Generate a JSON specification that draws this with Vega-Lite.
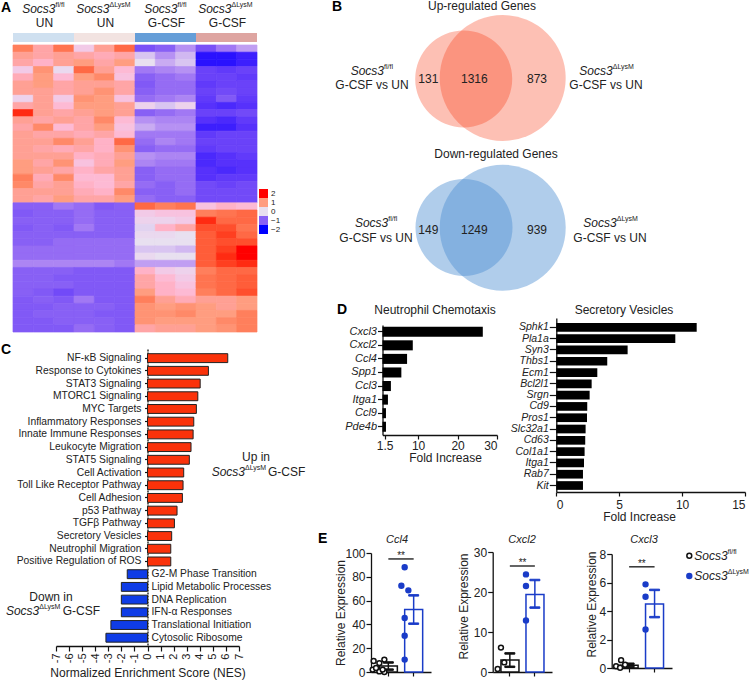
{"$schema":"https://vega.github.io/schema/vega-lite/v6.json","background":"white","padding":0,"autosize":"none","width":750,"height":680,
"config":{"font":"Liberation Sans","view":{"stroke":null},"axis":{"grid":false,"domainColor":"#111","tickColor":"#111","labelColor":"#222","titleColor":"#222","titleFontWeight":"normal","domainWidth":1.3,"tickWidth":1.2,"labelFontSize":12,"titleFontSize":12},"text":{"fontSize":12,"color":"#222","baseline":"middle"}},
"resolve":{"scale":{"x":"independent","y":"independent","fill":"independent","stroke":"independent","color":"independent","fillOpacity":"independent","xOffset":"independent"},"axis":{"x":"independent","y":"independent"},"legend":{"fill":"independent"}},
"datasets":{
"hdr":[{"g":"a","t":"UN","s":"fl/fl"},{"g":"b","t":"UN","s":"ΔLysM"},{"g":"c","t":"G-CSF","s":"fl/fl"},{"g":"d","t":"G-CSF","s":"ΔLysM"}],
"nes":[{"p":"NF-κB Signaling","v":6.14},{"p":"Response to Cytokines","v":4.66},{"p":"STAT3 Signaling","v":4.03},{"p":"MTORC1 Signaling","v":3.85},{"p":"MYC Targets","v":3.74},{"p":"Inflammatory Responses","v":3.54},{"p":"Innate Immune Responses","v":3.49},{"p":"Leukocyte Migration","v":3.33},{"p":"STAT5 Signaling","v":3.2},{"p":"Cell Activation","v":2.77},{"p":"Toll Like Receptor Pathway","v":2.72},{"p":"Cell Adhesion","v":2.67},{"p":"p53 Pathway","v":2.26},{"p":"TGFβ Pathway","v":2.06},{"p":"Secretory Vesicles","v":1.85},{"p":"Neutrophil Migration","v":1.78},{"p":"Positive Regulation of ROS","v":1.78},{"p":"G2-M Phase Transition","v":-1.55},{"p":"Lipid Metabolic Processes","v":-2.0},{"p":"DNA Replication","v":-2.0},{"p":"IFN-α Responses","v":-2.0},{"p":"Translational Initiation","v":-2.8},{"p":"Cytosolic Ribosome","v":-3.18}],
"cnote":[{"x":8.3,"p":"STAT5 Signaling","t":"Up in","k":"c"},{"x":-7.38,"p":"DNA Replication","t":"Down in","k":"c"},{"x":7.46,"p":"Cell Activation","t":"Socs3","k":"s"},{"x":-8.28,"p":"IFN-α Responses","t":"Socs3","k":"s"},{"x":9.22,"p":"Cell Activation","t":"G-CSF","k":"g"},{"x":-6.49,"p":"IFN-α Responses","t":"G-CSF","k":"g"}],
"circ":[{"x":131.7,"y":78,"f":"up","k":"big"},{"x":92.7,"y":79,"f":"up","k":"small"},{"x":131.7,"y":227.7,"f":"down","k":"big"},{"x":93,"y":227.5,"f":"down","k":"small"}],
"vtxt":[{"x":1,"y":85,"t":"G-CSF vs UN"},{"x":235,"y":85,"t":"G-CSF vs UN"},{"x":5,"y":238,"t":"G-CSF vs UN"},{"x":239,"y":238,"t":"G-CSF vs UN"},{"x":57.3,"y":79,"t":"131"},{"x":103.3,"y":79,"t":"1316"},{"x":166,"y":79,"t":"873"},{"x":57.3,"y":230,"t":"149"},{"x":103.3,"y":230,"t":"1249"},{"x":166,"y":230,"t":"939"},{"x":111,"y":6,"t":"Up-regulated Genes"},{"x":125,"y":154,"t":"Down-regulated Genes"},{"x":64,"y":310,"t":"Neutrophil Chemotaxis"},{"x":253,"y":310,"t":"Secretory Vesicles"}],
"vital":[{"x":26,"y":540,"t":"Ccl4"},{"x":151,"y":540,"t":"Cxcl2"},{"x":273,"y":540,"t":"Cxcl3"}],
"vsoc":[{"x":13,"y":71,"s":"fl/fl"},{"x":241.7,"y":71,"s":"ΔLysM"},{"x":17.3,"y":223,"s":"fl/fl"},{"x":245.7,"y":223,"s":"ΔLysM"}],
"letters":[{"x":-370,"y":8,"t":"A"},{"x":-39,"y":7,"t":"B"},{"x":-370,"y":350,"t":"C"},{"x":-34,"y":310,"t":"D"},{"x":-53,"y":539,"t":"E"}],
"d1":[{"g":"Cxcl3","v":26.4},{"g":"Cxcl2","v":8.65},{"g":"Ccl4","v":7.2},{"g":"Spp1","v":5.75},{"g":"Ccl3","v":3.1},{"g":"Itga1","v":2.35},{"g":"Ccl9","v":1.85},{"g":"Pde4b","v":1.85}],
"d2":[{"g":"Sphk1","v":11.16},{"g":"Pla1a","v":9.46},{"g":"Syn3","v":5.67},{"g":"Thbs1","v":4.05},{"g":"Ecm1","v":3.26},{"g":"Bcl2l1","v":2.81},{"g":"Srgn","v":2.65},{"g":"Cd9","v":2.46},{"g":"Pros1","v":2.44},{"g":"Slc32a1","v":2.33},{"g":"Cd63","v":2.3},{"g":"Col1a1","v":2.25},{"g":"Itga1","v":2.2},{"g":"Rab7","v":2.12},{"g":"Kit","v":2.12}],
"es":[{"n":"Ccl4","g":"fl","m":5,"lo":2,"hi":8},{"n":"Ccl4","g":"ko","m":52.5,"lo":40.6,"hi":64.4},{"n":"Cxcl2","g":"fl","m":3,"lo":1.3,"hi":4.65},{"n":"Cxcl2","g":"ko","m":19.4,"lo":16.1,"hi":23},{"n":"Cxcl3","g":"fl","m":0.19,"lo":0.08,"hi":0.3},{"n":"Cxcl3","g":"ko","m":4.5,"lo":3.57,"hi":5.48}],
"ep":[{"n":"Ccl4","g":"fl","v":9.2,"j":-5.7},{"n":"Ccl4","g":"fl","v":10.4,"j":5},{"n":"Ccl4","g":"fl","v":7.5,"j":0},{"n":"Ccl4","g":"fl","v":2,"j":-6.7},{"n":"Ccl4","g":"fl","v":0.5,"j":0},{"n":"Ccl4","g":"fl","v":0,"j":5},{"n":"Ccl4","g":"fl","v":3.4,"j":-3.3},{"n":"Ccl4","g":"fl","v":2,"j":3.3},{"n":"Ccl4","g":"ko","v":88,"j":0},{"n":"Ccl4","g":"ko","v":72.5,"j":-3.3},{"n":"Ccl4","g":"ko","v":68.6,"j":3.7},{"n":"Ccl4","g":"ko","v":45.4,"j":0},{"n":"Ccl4","g":"ko","v":30.5,"j":0},{"n":"Ccl4","g":"ko","v":10.4,"j":0},{"n":"Cxcl2","g":"fl","v":6.1,"j":0},{"n":"Cxcl2","g":"fl","v":2.4,"j":3.3},{"n":"Cxcl2","g":"fl","v":0.75,"j":-3.3},{"n":"Cxcl2","g":"ko","v":24.4,"j":0},{"n":"Cxcl2","g":"ko","v":21.5,"j":0},{"n":"Cxcl2","g":"ko","v":12.9,"j":0},{"n":"Cxcl3","g":"fl","v":0.55,"j":1},{"n":"Cxcl3","g":"fl","v":0.23,"j":5},{"n":"Cxcl3","g":"fl","v":0.12,"j":-4},{"n":"Cxcl3","g":"fl","v":0.02,"j":0},{"n":"Cxcl3","g":"ko","v":5.87,"j":0},{"n":"Cxcl3","g":"ko","v":5,"j":0},{"n":"Cxcl3","g":"ko","v":2.7,"j":0}],
"sig":[{"n":"Ccl4","a":"fl","b":"ko","y":95,"t":"**"},{"n":"Cxcl2","a":"fl","b":"ko","y":26.5,"t":"**"},{"n":"Cxcl3","a":"fl","b":"ko","y":7.1,"t":"**"}],
"leg":[{"g":"fl","x":4.3,"a":42.7,"y":3.7,"s":"fl/fl"},{"g":"ko","x":4.3,"a":42.7,"y":24,"s":"ΔLysM"}],
"heat":[
{"r":1,"c":1,"v":1.3},{"r":1,"c":2,"v":0.8},{"r":1,"c":3,"v":1.4},{"r":1,"c":4,"v":0.3},{"r":1,"c":5,"v":0.9},{"r":1,"c":6,"v":1.5},{"r":1,"c":7,"v":-1.2},{"r":1,"c":8,"v":-1},{"r":1,"c":9,"v":-0.6},{"r":1,"c":10,"v":-1.2},{"r":1,"c":11,"v":-0.8},{"r":1,"c":12,"v":-0.5},
{"r":2,"c":1,"v":0.9},{"r":2,"c":2,"v":0.8},{"r":2,"c":3,"v":0.9},{"r":2,"c":4,"v":0.8},{"r":2,"c":5,"v":0.7},{"r":2,"c":6,"v":0.8},{"r":2,"c":7,"v":-0.2},{"r":2,"c":8,"v":-0.6},{"r":2,"c":9,"v":-0.3},{"r":2,"c":10,"v":-1.9},{"r":2,"c":11,"v":-1.9},{"r":2,"c":12,"v":-1.8},
{"r":3,"c":1,"v":0.8},{"r":3,"c":2,"v":0.6},{"r":3,"c":3,"v":0.9},{"r":3,"c":4,"v":1},{"r":3,"c":5,"v":0.8},{"r":3,"c":6,"v":1},{"r":3,"c":7,"v":0},{"r":3,"c":8,"v":-0.4},{"r":3,"c":9,"v":-0.2},{"r":3,"c":10,"v":-1.9},{"r":3,"c":11,"v":-1.9},{"r":3,"c":12,"v":-1.8},
{"r":4,"c":1,"v":0.3},{"r":4,"c":2,"v":1.1},{"r":4,"c":3,"v":0.1},{"r":4,"c":4,"v":1.5},{"r":4,"c":5,"v":0.9},{"r":4,"c":6,"v":0.5},{"r":4,"c":7,"v":-0.8},{"r":4,"c":8,"v":-0.7},{"r":4,"c":9,"v":-0.6},{"r":4,"c":10,"v":-1.4},{"r":4,"c":11,"v":-1.5},{"r":4,"c":12,"v":-1.4},
{"r":5,"c":1,"v":0.7},{"r":5,"c":2,"v":1},{"r":5,"c":3,"v":0.5},{"r":5,"c":4,"v":1},{"r":5,"c":5,"v":1.2},{"r":5,"c":6,"v":0.4},{"r":5,"c":7,"v":-1},{"r":5,"c":8,"v":-0.9},{"r":5,"c":9,"v":-0.8},{"r":5,"c":10,"v":-1.4},{"r":5,"c":11,"v":-1.4},{"r":5,"c":12,"v":-1.5},
{"r":6,"c":1,"v":0.9},{"r":6,"c":2,"v":1},{"r":6,"c":3,"v":0.8},{"r":6,"c":4,"v":0.9},{"r":6,"c":5,"v":0.9},{"r":6,"c":6,"v":0.8},{"r":6,"c":7,"v":-1.1},{"r":6,"c":8,"v":-0.9},{"r":6,"c":9,"v":-0.9},{"r":6,"c":10,"v":-1.5},{"r":6,"c":11,"v":-1.4},{"r":6,"c":12,"v":-1.4},
{"r":7,"c":1,"v":0.9},{"r":7,"c":2,"v":0.9},{"r":7,"c":3,"v":0.8},{"r":7,"c":4,"v":0.9},{"r":7,"c":5,"v":1.1},{"r":7,"c":6,"v":0.8},{"r":7,"c":7,"v":-1},{"r":7,"c":8,"v":-0.9},{"r":7,"c":9,"v":-0.9},{"r":7,"c":10,"v":-1.4},{"r":7,"c":11,"v":-1.3},{"r":7,"c":12,"v":-1.4},
{"r":8,"c":1,"v":0.2},{"r":8,"c":2,"v":0.9},{"r":8,"c":3,"v":0.3},{"r":8,"c":4,"v":1.1},{"r":8,"c":5,"v":1},{"r":8,"c":6,"v":0.4},{"r":8,"c":7,"v":-0.9},{"r":8,"c":8,"v":-0.8},{"r":8,"c":9,"v":-0.7},{"r":8,"c":10,"v":-1.5},{"r":8,"c":11,"v":-1.1},{"r":8,"c":12,"v":-1.5},
{"r":9,"c":1,"v":0.8},{"r":9,"c":2,"v":0.9},{"r":9,"c":3,"v":0.5},{"r":9,"c":4,"v":1},{"r":9,"c":5,"v":1},{"r":9,"c":6,"v":0.9},{"r":9,"c":7,"v":0.2},{"r":9,"c":8,"v":-0.2},{"r":9,"c":9,"v":0.2},{"r":9,"c":10,"v":-1.6},{"r":9,"c":11,"v":-1.7},{"r":9,"c":12,"v":-1.6},
{"r":10,"c":1,"v":1.9},{"r":10,"c":2,"v":0.9},{"r":10,"c":3,"v":0.8},{"r":10,"c":4,"v":0.9},{"r":10,"c":5,"v":1},{"r":10,"c":6,"v":0.9},{"r":10,"c":7,"v":-1},{"r":10,"c":8,"v":-0.9},{"r":10,"c":9,"v":-0.8},{"r":10,"c":10,"v":-1.4},{"r":10,"c":11,"v":-1.4},{"r":10,"c":12,"v":-1.3},
{"r":11,"c":1,"v":0.9},{"r":11,"c":2,"v":0.8},{"r":11,"c":3,"v":0.9},{"r":11,"c":4,"v":0.8},{"r":11,"c":5,"v":1.2},{"r":11,"c":6,"v":0.5},{"r":11,"c":7,"v":-0.6},{"r":11,"c":8,"v":-0.7},{"r":11,"c":9,"v":-0.7},{"r":11,"c":10,"v":-1.6},{"r":11,"c":11,"v":-1.7},{"r":11,"c":12,"v":-1.5},
{"r":12,"c":1,"v":0.8},{"r":12,"c":2,"v":1.2},{"r":12,"c":3,"v":0.5},{"r":12,"c":4,"v":0.8},{"r":12,"c":5,"v":1},{"r":12,"c":6,"v":0.4},{"r":12,"c":7,"v":-0.4},{"r":12,"c":8,"v":-0.6},{"r":12,"c":9,"v":-0.6},{"r":12,"c":10,"v":-1.8},{"r":12,"c":11,"v":-1.8},{"r":12,"c":12,"v":-1.6},
{"r":13,"c":1,"v":0.9},{"r":13,"c":2,"v":0.8},{"r":13,"c":3,"v":0.8},{"r":13,"c":4,"v":0.7},{"r":13,"c":5,"v":0.8},{"r":13,"c":6,"v":0.5},{"r":13,"c":7,"v":-0.8},{"r":13,"c":8,"v":-0.8},{"r":13,"c":9,"v":-0.8},{"r":13,"c":10,"v":-1.5},{"r":13,"c":11,"v":-1.4},{"r":13,"c":12,"v":-1.4},
{"r":14,"c":1,"v":0.9},{"r":14,"c":2,"v":0.9},{"r":14,"c":3,"v":1.2},{"r":14,"c":4,"v":0.9},{"r":14,"c":5,"v":0.6},{"r":14,"c":6,"v":1.5},{"r":14,"c":7,"v":-0.9},{"r":14,"c":8,"v":-0.7},{"r":14,"c":9,"v":-0.8},{"r":14,"c":10,"v":-1.4},{"r":14,"c":11,"v":-1.4},{"r":14,"c":12,"v":-1.4},
{"r":15,"c":1,"v":0.9},{"r":15,"c":2,"v":0.8},{"r":15,"c":3,"v":0.7},{"r":15,"c":4,"v":0.8},{"r":15,"c":5,"v":0.6},{"r":15,"c":6,"v":1.1},{"r":15,"c":7,"v":-1},{"r":15,"c":8,"v":-0.9},{"r":15,"c":9,"v":-0.9},{"r":15,"c":10,"v":-1.5},{"r":15,"c":11,"v":-1.4},{"r":15,"c":12,"v":-1.4},
{"r":16,"c":1,"v":0.9},{"r":16,"c":2,"v":0.9},{"r":16,"c":3,"v":0.9},{"r":16,"c":4,"v":0.6},{"r":16,"c":5,"v":0.7},{"r":16,"c":6,"v":0.9},{"r":16,"c":7,"v":-0.6},{"r":16,"c":8,"v":-0.7},{"r":16,"c":9,"v":-0.7},{"r":16,"c":10,"v":-1.7},{"r":16,"c":11,"v":-1.6},{"r":16,"c":12,"v":-1.5},
{"r":17,"c":1,"v":1},{"r":17,"c":2,"v":0.8},{"r":17,"c":3,"v":1.1},{"r":17,"c":4,"v":0.4},{"r":17,"c":5,"v":0.7},{"r":17,"c":6,"v":1},{"r":17,"c":7,"v":-0.7},{"r":17,"c":8,"v":-0.8},{"r":17,"c":9,"v":-0.8},{"r":17,"c":10,"v":-1.7},{"r":17,"c":11,"v":-1.6},{"r":17,"c":12,"v":-1.6},
{"r":18,"c":1,"v":1},{"r":18,"c":2,"v":0.9},{"r":18,"c":3,"v":0.8},{"r":18,"c":4,"v":0.6},{"r":18,"c":5,"v":0.8},{"r":18,"c":6,"v":0.9},{"r":18,"c":7,"v":-1},{"r":18,"c":8,"v":-0.9},{"r":18,"c":9,"v":-0.9},{"r":18,"c":10,"v":-1.6},{"r":18,"c":11,"v":-1.7},{"r":18,"c":12,"v":-1.6},
{"r":19,"c":1,"v":1.3},{"r":19,"c":2,"v":0.7},{"r":19,"c":3,"v":1.2},{"r":19,"c":4,"v":0.5},{"r":19,"c":5,"v":0.5},{"r":19,"c":6,"v":0.9},{"r":19,"c":7,"v":-1},{"r":19,"c":8,"v":-0.9},{"r":19,"c":9,"v":-0.9},{"r":19,"c":10,"v":-1.6},{"r":19,"c":11,"v":-1.5},{"r":19,"c":12,"v":-1.5},
{"r":20,"c":1,"v":1.2},{"r":20,"c":2,"v":0.8},{"r":20,"c":3,"v":0.9},{"r":20,"c":4,"v":0.6},{"r":20,"c":5,"v":0.5},{"r":20,"c":6,"v":0.8},{"r":20,"c":7,"v":-0.9},{"r":20,"c":8,"v":-1},{"r":20,"c":9,"v":-0.9},{"r":20,"c":10,"v":-1.3},{"r":20,"c":11,"v":-1.4},{"r":20,"c":12,"v":-1.3},
{"r":21,"c":1,"v":0.9},{"r":21,"c":2,"v":0.9},{"r":21,"c":3,"v":0.9},{"r":21,"c":4,"v":0.7},{"r":21,"c":5,"v":0.6},{"r":21,"c":6,"v":1.2},{"r":21,"c":7,"v":-1},{"r":21,"c":8,"v":-1},{"r":21,"c":9,"v":-0.9},{"r":21,"c":10,"v":-1.3},{"r":21,"c":11,"v":-1.3},{"r":21,"c":12,"v":-1.3},
{"r":22,"c":1,"v":0.9},{"r":22,"c":2,"v":0.8},{"r":22,"c":3,"v":1},{"r":22,"c":4,"v":0.8},{"r":22,"c":5,"v":0.8},{"r":22,"c":6,"v":1},{"r":22,"c":7,"v":-0.9},{"r":22,"c":8,"v":-1},{"r":22,"c":9,"v":-1},{"r":22,"c":10,"v":-1.3},{"r":22,"c":11,"v":-1.3},{"r":22,"c":12,"v":-1.3},
{"r":23,"c":1,"v":-1},{"r":23,"c":2,"v":-1},{"r":23,"c":3,"v":-0.8},{"r":23,"c":4,"v":-0.9},{"r":23,"c":5,"v":-1.1},{"r":23,"c":6,"v":-1},{"r":23,"c":7,"v":1.5},{"r":23,"c":8,"v":1.3},{"r":23,"c":9,"v":1.4},{"r":23,"c":10,"v":0.4},{"r":23,"c":11,"v":0.6},{"r":23,"c":12,"v":0.5},
{"r":24,"c":1,"v":-1.1},{"r":24,"c":2,"v":-1},{"r":24,"c":3,"v":-1},{"r":24,"c":4,"v":-0.9},{"r":24,"c":5,"v":-1},{"r":24,"c":6,"v":-1},{"r":24,"c":7,"v":0.3},{"r":24,"c":8,"v":0.4},{"r":24,"c":9,"v":0.4},{"r":24,"c":10,"v":1.3},{"r":24,"c":11,"v":1.4},{"r":24,"c":12,"v":1.5},
{"r":25,"c":1,"v":-1},{"r":25,"c":2,"v":-1},{"r":25,"c":3,"v":-1},{"r":25,"c":4,"v":-0.9},{"r":25,"c":5,"v":-1},{"r":25,"c":6,"v":-1},{"r":25,"c":7,"v":0.2},{"r":25,"c":8,"v":0.2},{"r":25,"c":9,"v":0.3},{"r":25,"c":10,"v":1.9},{"r":25,"c":11,"v":1.5},{"r":25,"c":12,"v":1.5},
{"r":26,"c":1,"v":-1.1},{"r":26,"c":2,"v":-1},{"r":26,"c":3,"v":-1.1},{"r":26,"c":4,"v":-0.8},{"r":26,"c":5,"v":-1},{"r":26,"c":6,"v":-1},{"r":26,"c":7,"v":-0.1},{"r":26,"c":8,"v":0.6},{"r":26,"c":9,"v":0.8},{"r":26,"c":10,"v":1.7},{"r":26,"c":11,"v":1.7},{"r":26,"c":12,"v":1.4},
{"r":27,"c":1,"v":-1},{"r":27,"c":2,"v":-1},{"r":27,"c":3,"v":-1},{"r":27,"c":4,"v":-1},{"r":27,"c":5,"v":-1},{"r":27,"c":6,"v":-1},{"r":27,"c":7,"v":0.1},{"r":27,"c":8,"v":0.1},{"r":27,"c":9,"v":0},{"r":27,"c":10,"v":1.6},{"r":27,"c":11,"v":1.8},{"r":27,"c":12,"v":1.5},
{"r":28,"c":1,"v":-1},{"r":28,"c":2,"v":-1},{"r":28,"c":3,"v":-0.9},{"r":28,"c":4,"v":-0.9},{"r":28,"c":5,"v":-0.9},{"r":28,"c":6,"v":-0.9},{"r":28,"c":7,"v":0},{"r":28,"c":8,"v":0},{"r":28,"c":9,"v":0},{"r":28,"c":10,"v":1.6},{"r":28,"c":11,"v":1.7},{"r":28,"c":12,"v":1.7},
{"r":29,"c":1,"v":-0.9},{"r":29,"c":2,"v":-0.9},{"r":29,"c":3,"v":-0.9},{"r":29,"c":4,"v":-0.9},{"r":29,"c":5,"v":-0.9},{"r":29,"c":6,"v":-0.9},{"r":29,"c":7,"v":-0.2},{"r":29,"c":8,"v":-0.2},{"r":29,"c":9,"v":-0.3},{"r":29,"c":10,"v":1.6},{"r":29,"c":11,"v":1.8},{"r":29,"c":12,"v":2},
{"r":30,"c":1,"v":-0.9},{"r":30,"c":2,"v":-0.9},{"r":30,"c":3,"v":-0.9},{"r":30,"c":4,"v":-0.9},{"r":30,"c":5,"v":-0.9},{"r":30,"c":6,"v":-0.9},{"r":30,"c":7,"v":0.1},{"r":30,"c":8,"v":0},{"r":30,"c":9,"v":0},{"r":30,"c":10,"v":1.6},{"r":30,"c":11,"v":1.9},{"r":30,"c":12,"v":2},
{"r":31,"c":1,"v":-0.7},{"r":31,"c":2,"v":-0.7},{"r":31,"c":3,"v":-0.7},{"r":31,"c":4,"v":-0.7},{"r":31,"c":5,"v":-0.7},{"r":31,"c":6,"v":-0.8},{"r":31,"c":7,"v":-0.5},{"r":31,"c":8,"v":-0.5},{"r":31,"c":9,"v":-0.5},{"r":31,"c":10,"v":1.6},{"r":31,"c":11,"v":1.8},{"r":31,"c":12,"v":1.9},
{"r":32,"c":1,"v":-1},{"r":32,"c":2,"v":-1},{"r":32,"c":3,"v":-1},{"r":32,"c":4,"v":-1.1},{"r":32,"c":5,"v":-1.1},{"r":32,"c":6,"v":-1.1},{"r":32,"c":7,"v":0.6},{"r":32,"c":8,"v":0.3},{"r":32,"c":9,"v":0.2},{"r":32,"c":10,"v":1.3},{"r":32,"c":11,"v":1.5},{"r":32,"c":12,"v":1.5},
{"r":33,"c":1,"v":-1},{"r":33,"c":2,"v":-1},{"r":33,"c":3,"v":-1.1},{"r":33,"c":4,"v":-1.1},{"r":33,"c":5,"v":-1.1},{"r":33,"c":6,"v":-1.1},{"r":33,"c":7,"v":0.8},{"r":33,"c":8,"v":0.5},{"r":33,"c":9,"v":0.3},{"r":33,"c":10,"v":1.4},{"r":33,"c":11,"v":1.5},{"r":33,"c":12,"v":1.6},
{"r":34,"c":1,"v":-1},{"r":34,"c":2,"v":-1},{"r":34,"c":3,"v":-1},{"r":34,"c":4,"v":-1.1},{"r":34,"c":5,"v":-1.1},{"r":34,"c":6,"v":-1.1},{"r":34,"c":7,"v":0.8},{"r":34,"c":8,"v":0.6},{"r":34,"c":9,"v":0.4},{"r":34,"c":10,"v":1.4},{"r":34,"c":11,"v":1.5},{"r":34,"c":12,"v":1.6},
{"r":35,"c":1,"v":-1},{"r":35,"c":2,"v":-1.1},{"r":35,"c":3,"v":-1.3},{"r":35,"c":4,"v":-1.1},{"r":35,"c":5,"v":-1.1},{"r":35,"c":6,"v":-1.1},{"r":35,"c":7,"v":1},{"r":35,"c":8,"v":0.6},{"r":35,"c":9,"v":0.5},{"r":35,"c":10,"v":1.3},{"r":35,"c":11,"v":1.5},{"r":35,"c":12,"v":1.7},
{"r":36,"c":1,"v":-1.1},{"r":36,"c":2,"v":-1},{"r":36,"c":3,"v":-1.1},{"r":36,"c":4,"v":-0.8},{"r":36,"c":5,"v":-1.1},{"r":36,"c":6,"v":-1.1},{"r":36,"c":7,"v":1.3},{"r":36,"c":8,"v":0.9},{"r":36,"c":9,"v":0.7},{"r":36,"c":10,"v":0.9},{"r":36,"c":11,"v":0.9},{"r":36,"c":12,"v":1},
{"r":37,"c":1,"v":-1.1},{"r":37,"c":2,"v":-1.1},{"r":37,"c":3,"v":-1},{"r":37,"c":4,"v":-1},{"r":37,"c":5,"v":-1},{"r":37,"c":6,"v":-1.1},{"r":37,"c":7,"v":1.1},{"r":37,"c":8,"v":1},{"r":37,"c":9,"v":1.1},{"r":37,"c":10,"v":1},{"r":37,"c":11,"v":0.9},{"r":37,"c":12,"v":1},
{"r":38,"c":1,"v":-1.1},{"r":38,"c":2,"v":-1},{"r":38,"c":3,"v":-1},{"r":38,"c":4,"v":-1},{"r":38,"c":5,"v":-1.1},{"r":38,"c":6,"v":-1.1},{"r":38,"c":7,"v":1.1},{"r":38,"c":8,"v":1.1},{"r":38,"c":9,"v":1.2},{"r":38,"c":10,"v":1},{"r":38,"c":11,"v":1},{"r":38,"c":12,"v":1.3},
{"r":39,"c":1,"v":-1.1},{"r":39,"c":2,"v":-1.1},{"r":39,"c":3,"v":-1},{"r":39,"c":4,"v":-1},{"r":39,"c":5,"v":-1},{"r":39,"c":6,"v":-1.1},{"r":39,"c":7,"v":1.1},{"r":39,"c":8,"v":1},{"r":39,"c":9,"v":1},{"r":39,"c":10,"v":1},{"r":39,"c":11,"v":1.2},{"r":39,"c":12,"v":1.3},
{"r":40,"c":1,"v":-1.1},{"r":40,"c":2,"v":-1.1},{"r":40,"c":3,"v":-1.1},{"r":40,"c":4,"v":-0.9},{"r":40,"c":5,"v":-1},{"r":40,"c":6,"v":-1.1},{"r":40,"c":7,"v":0.8},{"r":40,"c":8,"v":0.9},{"r":40,"c":9,"v":0.9},{"r":40,"c":10,"v":1},{"r":40,"c":11,"v":1.1},{"r":40,"c":12,"v":1.3}
]},
"layer":[
{"data":{"name":"hdr"},
 "encoding":{"x":{"field":"g","type":"nominal","scale":{"paddingInner":0,"paddingOuter":0,"range":[13,257]},"axis":null},"y":{"type":"quantitative","scale":{"domain":[0,42],"range":[0,42],"nice":false},"axis":null}},
 "layer":[
  {"mark":{"type":"rect"},"encoding":{"y":{"datum":33,"type":"quantitative"},"y2":{"datum":42},"fill":{"field":"g","type":"nominal","scale":{"domain":["a","b","c","d"],"range":["#cfe0f0","#f2e3e1","#659ed8","#dea5a1"]},"legend":null}}},
  {"transform":[{"filter":"datum.s=='fl/fl'"}],"mark":{"type":"text","text":"Socs3","fontStyle":"italic","align":"right","dx":12},"encoding":{"y":{"datum":9,"type":"quantitative"}}},
  {"transform":[{"filter":"datum.s=='fl/fl'"}],"mark":{"type":"text","align":"left","dx":12,"dy":-4,"fontSize":7},"encoding":{"y":{"datum":9,"type":"quantitative"},"text":{"field":"s"}}},
  {"transform":[{"filter":"datum.s!='fl/fl'"}],"mark":{"type":"text","text":"Socs3","fontStyle":"italic","align":"right","dx":5},"encoding":{"y":{"datum":9,"type":"quantitative"}}},
  {"transform":[{"filter":"datum.s!='fl/fl'"}],"mark":{"type":"text","align":"left","dx":5,"dy":-4,"fontSize":7},"encoding":{"y":{"datum":9,"type":"quantitative"},"text":{"field":"s"}}},
  {"mark":{"type":"text","dx":1},"encoding":{"y":{"datum":23,"type":"quantitative"},"text":{"field":"t"}}}
 ]},
{"data":{"name":"heat"},"mark":{"type":"rect","strokeWidth":0.7},
 "encoding":{"x":{"field":"c","type":"ordinal","axis":null,"scale":{"paddingInner":0,"paddingOuter":0,"range":[13,257]}},"y":{"field":"r","type":"ordinal","axis":null,"scale":{"paddingInner":0,"paddingOuter":0,"range":[45,332]}},
  "stroke":{"field":"v","type":"quantitative","scale":{"domain":[-2,-1,0,1,2],"range":["#0000ff","#8860f5","#e8e0f0","#ff9d80","#ff0000"]},"legend":null},
  "fill":{"field":"v","type":"quantitative","scale":{"domain":[-2,-1,0,1,2],"range":["#0000ff","#8860f5","#e8e0f0","#ff9d80","#ff0000"]},
   "legend":{"type":"symbol","title":null,"orient":"none","legendX":259,"legendY":189,"values":[2,1,0,-1,-2],"symbolType":"square","symbolSize":81,"labelFontSize":8,"rowPadding":0,"clipHeight":9,"labelColor":"#222","symbolStrokeWidth":0,"labelOffset":3,"padding":0}}}},
{"data":{"name":"nes"},
 "layer":[
  {"mark":{"type":"bar","strokeWidth":1,"stroke":"#222"},"encoding":{
    "y":{"field":"p","type":"nominal","sort":null,"scale":{"range":[349,646],"paddingInner":0.3,"paddingOuter":0.335,"align":0.55},"axis":{"orient":"left","title":null,"labels":false,"offset":-147.5,"tickSize":3,"domainDash":[2,1]}},
    "x":{"field":"v","type":"quantitative","scale":{"domain":[-7,7],"range":[56,239],"nice":false},"axis":{"orient":"bottom","offset":-34,"values":[-7,-6,-5,-4,-3,-2,-1,0,1,2,3,4,5,6,7],"labelAngle":-90,"labelExpr":"''+datum.value","labelFontSize":11,"tickSize":5,"labelPadding":2,"title":"Normalized Enrichment Score (NES)","titlePadding":5}},
    "x2":{"datum":0},
    "fill":{"condition":{"test":"datum.v>0","value":"#fa320a"},"value":"#0f3ce6"}}},
  {"transform":[{"filter":"datum.v>0"}],"mark":{"type":"text","align":"right","dx":-6,"fontSize":10.3},"encoding":{"y":{"field":"p","type":"nominal","sort":null},"x":{"datum":0,"type":"quantitative"},"text":{"field":"p"}}},
  {"transform":[{"filter":"datum.v<0"}],"mark":{"type":"text","align":"left","dx":4,"fontSize":10.3},"encoding":{"y":{"field":"p","type":"nominal","sort":null},"x":{"datum":0,"type":"quantitative"},"text":{"field":"p"}}},
  {"data":{"name":"cnote"},"transform":[{"filter":"datum.k=='c'"}],"mark":{"type":"text","dy":-3},"encoding":{"y":{"field":"p","type":"nominal","sort":null},"x":{"field":"x","type":"quantitative"},"text":{"field":"t"}}},
  {"data":{"name":"cnote"},"transform":[{"filter":"datum.k=='s'"}],"mark":{"type":"text","align":"right","dy":-1,"fontStyle":"italic"},"encoding":{"y":{"field":"p","type":"nominal","sort":null},"x":{"field":"x","type":"quantitative"},"text":{"field":"t"}}},
  {"data":{"name":"cnote"},"transform":[{"filter":"datum.k=='s'"}],"mark":{"type":"text","align":"left","dy":-5,"fontSize":7,"text":"ΔLysM"},"encoding":{"y":{"field":"p","type":"nominal","sort":null},"x":{"field":"x","type":"quantitative"}}},
  {"data":{"name":"cnote"},"transform":[{"filter":"datum.k=='g'"}],"mark":{"type":"text","align":"left","dy":-1},"encoding":{"y":{"field":"p","type":"nominal","sort":null},"x":{"field":"x","type":"quantitative"},"text":{"field":"t"}}}
 ]},
{"encoding":{"x":{"field":"x","type":"quantitative","scale":{"domain":[0,379],"range":[371,750],"nice":false},"axis":null},"y":{"field":"y","type":"quantitative","scale":{"domain":[0,258],"range":[0,258],"nice":false},"axis":null}},
 "layer":[
  {"data":{"name":"circ"},"transform":[{"filter":"datum.k=='big'"}],"mark":{"type":"point","shape":"circle","filled":true,"size":15876,"opacity":1,"strokeWidth":0},"encoding":{"fill":{"field":"f","type":"nominal","scale":{"domain":["up","down"],"range":["#F82D05","#5090D3"]},"legend":null},"fillOpacity":{"field":"f","type":"nominal","scale":{"domain":["up","down"],"range":[0.3,0.45]},"legend":null}}},
  {"data":{"name":"circ"},"transform":[{"filter":"datum.k=='small'"}],"mark":{"type":"point","shape":"circle","filled":true,"size":9409,"opacity":1,"strokeWidth":0},"encoding":{"fill":{"field":"f","type":"nominal","scale":{"domain":["up","down"],"range":["#F82D05","#5090D3"]},"legend":null},"fillOpacity":{"field":"f","type":"nominal","scale":{"domain":["up","down"],"range":[0.3,0.45]},"legend":null}}},
  {"data":{"name":"vtxt"},"mark":{"type":"text"},"encoding":{"text":{"field":"t"}}},
  {"data":{"name":"vital"},"mark":{"type":"text","fontStyle":"italic","fontSize":11},"encoding":{"text":{"field":"t"}}},
  {"data":{"name":"vsoc"},"mark":{"type":"text","text":"Socs3","fontStyle":"italic","align":"right"}},
  {"data":{"name":"vsoc"},"mark":{"type":"text","align":"left","dy":-4,"fontSize":7},"encoding":{"text":{"field":"s"}}},
  {"data":{"name":"letters"},"mark":{"type":"text","align":"left","fontWeight":"bold","fontSize":14,"color":"#000"},"encoding":{"text":{"field":"t"}}}
 ]},
{"data":{"name":"d1"},"mark":{"type":"bar","color":"#000"},
 "encoding":{"y":{"field":"g","type":"nominal","sort":null,"scale":{"range":[325,435],"paddingInner":0.26,"paddingOuter":0.183,"align":0.35},"axis":{"orient":"left","offset":-382.5,"title":null,"labelFontStyle":"italic","labelFontSize":11,"tickSize":5,"labelPadding":1}},
  "x":{"field":"v","type":"quantitative","scale":{"domain":[0.97,30],"range":[382.5,497],"nice":false,"zero":false},"axis":{"orient":"bottom","offset":-245,"values":[1.5,10,20,30],"tickSize":4,"labelPadding":1,"labelExpr":"''+datum.value","title":"Fold Increase","titlePadding":1,"titleX":445}},
  "x2":{"datum":0.97}}},
{"data":{"name":"d2"},"mark":{"type":"bar","color":"#000"},
 "encoding":{"y":{"field":"g","type":"nominal","sort":null,"scale":{"range":[318,492],"paddingInner":0.23,"paddingOuter":0.315,"align":0.7},"axis":{"orient":"left","offset":-556.3,"title":null,"labelFontStyle":"italic","labelFontSize":10.5,"tickSize":7,"labelPadding":1}},
  "x":{"field":"v","type":"quantitative","scale":{"domain":[0,15],"range":[556.3,745],"nice":false},"axis":{"orient":"bottom","offset":-188,"values":[0,5,10,15],"tickSize":4,"labelPadding":3,"title":"Fold Increase","titlePadding":1,"titleX":639}}}},
{"encoding":{"x":{"field":"g","type":"nominal","scale":{"domain":["fl","ko"],"range":[371,431],"paddingInner":0.29,"paddingOuter":0.33},"axis":{"orient":"bottom","offset":-8,"title":null,"labels":false,"tickSize":4}},
   "y":{"type":"quantitative","scale":{"domain":[0,100],"range":[672,553],"nice":false},"axis":{"orient":"left","offset":-371,"values":[0,20,40,60,80,100],"tickSize":5,"labelPadding":1,"title":"Relative Expression","titlePadding":-3}},
   "stroke":{"field":"g","type":"nominal","scale":{"domain":["fl","ko"],"range":["#111","#1a3cc8"]},"legend":null}},
 "layer":[
  {"data":{"name":"es"},"transform":[{"filter":"datum.n=='Ccl4'"}],"mark":{"type":"bar","fill":"white","strokeWidth":1.5},"encoding":{"y":{"field":"m"}}},
  {"data":{"name":"es"},"transform":[{"filter":"datum.n=='Ccl4'"}],"mark":{"type":"rule","strokeWidth":1.5},"encoding":{"y":{"field":"lo"},"y2":{"field":"hi"}}},
  {"data":{"name":"es"},"transform":[{"filter":"datum.n=='Ccl4'"}],"mark":{"type":"tick","size":10,"thickness":1.5,"opacity":1},"encoding":{"y":{"field":"lo"},"fill":{"field":"g","type":"nominal","scale":{"domain":["fl","ko"],"range":["#111","#1a3cc8"]},"legend":null}}},
  {"data":{"name":"es"},"transform":[{"filter":"datum.n=='Ccl4'"}],"mark":{"type":"tick","size":10,"thickness":1.5,"opacity":1},"encoding":{"y":{"field":"hi"},"fill":{"field":"g","type":"nominal","scale":{"domain":["fl","ko"],"range":["#111","#1a3cc8"]},"legend":null}}},
  {"data":{"name":"ep"},"transform":[{"filter":"datum.n=='Ccl4'"}],"mark":{"type":"point","size":24,"strokeWidth":1.5,"opacity":1},"encoding":{"y":{"field":"v"},"xOffset":{"field":"j","type":"quantitative","scale":{"domain":[-10,10],"range":[-10,10]}},"fill":{"condition":{"test":"datum.g=='fl'","value":"#ffffff"},"value":"#1a3cc8"}}},
  {"data":{"name":"sig"},"transform":[{"filter":"datum.n=='Ccl4'"}],"mark":{"type":"rule","strokeWidth":1.3},"encoding":{"x":{"field":"a"},"x2":{"field":"b"},"y":{"field":"y"},"stroke":{"value":"#111"}}},
  {"data":{"name":"sig"},"transform":[{"filter":"datum.n=='Ccl4'"}],"mark":{"type":"text","dx":12.7,"dy":-3,"fontSize":10},"encoding":{"x":{"field":"a"},"y":{"field":"y"},"text":{"field":"t"},"stroke":{"value":null}}}
 ]},
{"encoding":{"x":{"field":"g","type":"nominal","scale":{"domain":["fl","ko"],"range":[492.7,552],"paddingInner":0.29,"paddingOuter":0.33},"axis":{"orient":"bottom","offset":-8,"title":null,"labels":false,"tickSize":4}},
   "y":{"type":"quantitative","scale":{"domain":[0,30],"range":[672,552],"nice":false},"axis":{"orient":"left","offset":-492.7,"values":[0,10,20,30],"tickSize":5,"labelPadding":1,"title":"Relative Expression","titlePadding":3,"titleY":606}},
   "stroke":{"field":"g","type":"nominal","scale":{"domain":["fl","ko"],"range":["#111","#1a3cc8"]},"legend":null}},
 "layer":[
  {"data":{"name":"es"},"transform":[{"filter":"datum.n=='Cxcl2'"}],"mark":{"type":"bar","fill":"white","strokeWidth":1.5},"encoding":{"y":{"field":"m"}}},
  {"data":{"name":"es"},"transform":[{"filter":"datum.n=='Cxcl2'"}],"mark":{"type":"rule","strokeWidth":1.5},"encoding":{"y":{"field":"lo"},"y2":{"field":"hi"}}},
  {"data":{"name":"es"},"transform":[{"filter":"datum.n=='Cxcl2'"}],"mark":{"type":"tick","size":10,"thickness":1.5,"opacity":1},"encoding":{"y":{"field":"lo"},"fill":{"field":"g","type":"nominal","scale":{"domain":["fl","ko"],"range":["#111","#1a3cc8"]},"legend":null}}},
  {"data":{"name":"es"},"transform":[{"filter":"datum.n=='Cxcl2'"}],"mark":{"type":"tick","size":10,"thickness":1.5,"opacity":1},"encoding":{"y":{"field":"hi"},"fill":{"field":"g","type":"nominal","scale":{"domain":["fl","ko"],"range":["#111","#1a3cc8"]},"legend":null}}},
  {"data":{"name":"ep"},"transform":[{"filter":"datum.n=='Cxcl2'"}],"mark":{"type":"point","size":24,"strokeWidth":1.5,"opacity":1},"encoding":{"y":{"field":"v"},"xOffset":{"field":"j","type":"quantitative","scale":{"domain":[-10,10],"range":[-10,10]}},"fill":{"condition":{"test":"datum.g=='fl'","value":"#ffffff"},"value":"#1a3cc8"}}},
  {"data":{"name":"sig"},"transform":[{"filter":"datum.n=='Cxcl2'"}],"mark":{"type":"rule","strokeWidth":1.3},"encoding":{"x":{"field":"a"},"x2":{"field":"b"},"y":{"field":"y"},"stroke":{"value":"#111"}}},
  {"data":{"name":"sig"},"transform":[{"filter":"datum.n=='Cxcl2'"}],"mark":{"type":"text","dx":12.7,"dy":-3,"fontSize":10},"encoding":{"x":{"field":"a"},"y":{"field":"y"},"text":{"field":"t"},"stroke":{"value":null}}}
 ]},
{"encoding":{"x":{"field":"g","type":"nominal","scale":{"domain":["fl","ko"],"range":[611.7,672],"paddingInner":0.29,"paddingOuter":0.33},"axis":{"orient":"bottom","offset":-12,"title":null,"labels":false,"tickSize":4}},
   "y":{"type":"quantitative","scale":{"domain":[0,8],"range":[668,554],"nice":false},"axis":{"orient":"left","offset":-611.7,"values":[0,2,4,6,8],"tickSize":5,"labelPadding":1,"title":"Relative Expression","titlePadding":1,"titleY":604}},
   "stroke":{"field":"g","type":"nominal","scale":{"domain":["fl","ko"],"range":["#111","#1a3cc8"]},"legend":null}},
 "layer":[
  {"data":{"name":"es"},"transform":[{"filter":"datum.n=='Cxcl3'"}],"mark":{"type":"bar","fill":"white","strokeWidth":1.5},"encoding":{"y":{"field":"m"}}},
  {"data":{"name":"es"},"transform":[{"filter":"datum.n=='Cxcl3'"}],"mark":{"type":"rule","strokeWidth":1.5},"encoding":{"y":{"field":"lo"},"y2":{"field":"hi"}}},
  {"data":{"name":"es"},"transform":[{"filter":"datum.n=='Cxcl3'"}],"mark":{"type":"tick","size":10,"thickness":1.5,"opacity":1},"encoding":{"y":{"field":"lo"},"fill":{"field":"g","type":"nominal","scale":{"domain":["fl","ko"],"range":["#111","#1a3cc8"]},"legend":null}}},
  {"data":{"name":"es"},"transform":[{"filter":"datum.n=='Cxcl3'"}],"mark":{"type":"tick","size":10,"thickness":1.5,"opacity":1},"encoding":{"y":{"field":"hi"},"fill":{"field":"g","type":"nominal","scale":{"domain":["fl","ko"],"range":["#111","#1a3cc8"]},"legend":null}}},
  {"data":{"name":"ep"},"transform":[{"filter":"datum.n=='Cxcl3'"}],"mark":{"type":"point","size":24,"strokeWidth":1.5,"opacity":1},"encoding":{"y":{"field":"v"},"xOffset":{"field":"j","type":"quantitative","scale":{"domain":[-10,10],"range":[-10,10]}},"fill":{"condition":{"test":"datum.g=='fl'","value":"#ffffff"},"value":"#1a3cc8"}}},
  {"data":{"name":"sig"},"transform":[{"filter":"datum.n=='Cxcl3'"}],"mark":{"type":"rule","strokeWidth":1.3},"encoding":{"x":{"field":"a"},"x2":{"field":"b"},"y":{"field":"y"},"stroke":{"value":"#111"}}},
  {"data":{"name":"sig"},"transform":[{"filter":"datum.n=='Cxcl3'"}],"mark":{"type":"text","dx":12.7,"dy":-3,"fontSize":10},"encoding":{"x":{"field":"a"},"y":{"field":"y"},"text":{"field":"t"},"stroke":{"value":null}}}
 ]},
{"data":{"name":"leg"},
 "encoding":{"x":{"type":"quantitative","scale":{"domain":[0,65],"range":[685,750],"nice":false},"axis":null},"y":{"field":"y","type":"quantitative","scale":{"domain":[0,116],"range":[552,668],"nice":false},"axis":null}},
 "layer":[
  {"mark":{"type":"point","size":24,"strokeWidth":1.5,"opacity":1},"encoding":{"x":{"field":"x"},"stroke":{"field":"g","type":"nominal","scale":{"domain":["fl","ko"],"range":["#111","#1a3cc8"]},"legend":null},"fill":{"condition":{"test":"datum.g=='fl'","value":"#ffffff"},"value":"#1a3cc8"}}},
  {"mark":{"type":"text","text":"Socs3","fontStyle":"italic","align":"right"},"encoding":{"x":{"field":"a"}}},
  {"mark":{"type":"text","align":"left","dy":-4,"fontSize":7},"encoding":{"x":{"field":"a"},"text":{"field":"s"}}}
 ]}
]}
